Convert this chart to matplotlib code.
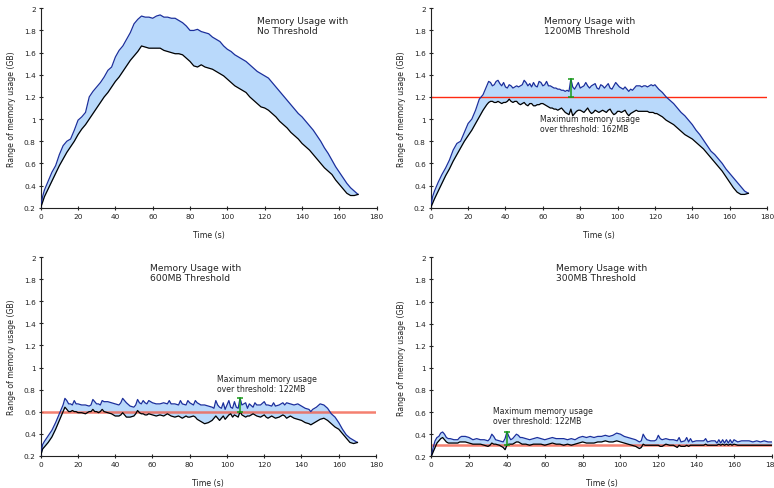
import matplotlib
matplotlib.use("Agg")
import matplotlib.pyplot as plt

# --- no threshold ---
t_none = [0, 1, 2, 4, 6, 8, 10, 12, 14, 16, 18, 20, 22, 24, 26, 28, 30, 32, 34, 36, 38, 40,
          42, 44, 46, 48, 50, 52, 54, 56, 58, 60, 62, 64, 66, 68, 70, 72, 74, 76, 78, 80,
          82, 84, 86, 88, 90, 92, 94, 96, 98, 100, 102, 104, 106, 108, 110, 112, 114, 116,
          118, 120, 122, 124, 126, 128, 130, 132, 134, 136, 138, 140, 142, 144, 146, 148,
          150, 152, 154, 156, 158, 160, 162, 164, 166, 168, 170]
hi_none = [0.2, 0.3, 0.36, 0.44, 0.52, 0.58, 0.68, 0.76, 0.8, 0.82, 0.9, 0.99, 1.02, 1.06,
           1.2, 1.25, 1.29, 1.33, 1.38, 1.44, 1.47, 1.56, 1.62, 1.66, 1.72, 1.78, 1.86, 1.9,
           1.93, 1.92, 1.92, 1.91, 1.93, 1.94, 1.92, 1.92, 1.91, 1.91, 1.89, 1.87, 1.84, 1.8,
           1.8, 1.81, 1.79, 1.78, 1.77, 1.74, 1.72, 1.7, 1.66, 1.63, 1.61, 1.58, 1.56, 1.54,
           1.52, 1.49, 1.46, 1.43, 1.41, 1.39, 1.37, 1.33, 1.29, 1.25, 1.21, 1.17, 1.13, 1.09,
           1.05, 1.02, 0.98, 0.94, 0.9, 0.85, 0.8, 0.74, 0.69, 0.63, 0.57, 0.52, 0.47, 0.42,
           0.38, 0.35, 0.32]
lo_none = [0.2, 0.25, 0.3, 0.37, 0.44, 0.51, 0.58, 0.64, 0.7, 0.75, 0.8, 0.86, 0.91, 0.95,
           1.0, 1.05, 1.1, 1.15, 1.2, 1.24, 1.29, 1.34, 1.38, 1.43, 1.48, 1.53, 1.57, 1.61,
           1.66, 1.65, 1.64, 1.64, 1.64, 1.64, 1.62, 1.61, 1.6, 1.59, 1.59, 1.58, 1.55, 1.52,
           1.48, 1.47, 1.49, 1.47, 1.46, 1.45, 1.43, 1.41, 1.39, 1.36, 1.33, 1.3, 1.28, 1.26,
           1.24, 1.2, 1.17, 1.14, 1.11, 1.1, 1.08, 1.05, 1.02, 0.98, 0.95, 0.92, 0.88, 0.85,
           0.82, 0.78, 0.75, 0.72, 0.68, 0.64, 0.6, 0.56, 0.53, 0.5, 0.45, 0.41, 0.37, 0.33,
           0.31, 0.31, 0.32]

# --- 1200MB threshold ---
t_1200 = ([0, 1, 2, 4, 6, 8, 10, 12, 14, 16, 18, 20, 22, 24, 26, 28, 30]
          + list(range(31, 123))
          + [124, 126, 128, 130, 132, 134, 136, 138, 140, 142, 144, 146, 148, 150, 152, 154,
             156, 158, 160, 162, 164, 166, 168, 170])
hi_1200 = [0.2, 0.3, 0.35, 0.43, 0.5, 0.56, 0.63, 0.72, 0.78, 0.8, 0.88, 0.96, 1.0, 1.08, 1.18,
           1.22, 1.3,
           1.34, 1.33, 1.3, 1.31, 1.34, 1.35, 1.32, 1.3, 1.33, 1.29, 1.28, 1.31, 1.3, 1.28,
           1.29, 1.3, 1.29, 1.3, 1.31, 1.35, 1.33, 1.3, 1.32, 1.29, 1.33, 1.3, 1.29, 1.34,
           1.33, 1.3, 1.31, 1.34, 1.3, 1.3, 1.29, 1.28, 1.28, 1.27, 1.27, 1.26, 1.26, 1.25,
           1.26, 1.25, 1.362, 1.29, 1.27, 1.3, 1.33, 1.28, 1.29, 1.3, 1.33, 1.3, 1.28, 1.3,
           1.31, 1.32, 1.28, 1.27, 1.31, 1.3, 1.28, 1.3, 1.32, 1.28, 1.27, 1.3, 1.33, 1.31,
           1.29, 1.28, 1.27, 1.29, 1.27, 1.25, 1.27, 1.26, 1.28, 1.3, 1.3, 1.3, 1.29, 1.3,
           1.3, 1.29, 1.3, 1.31, 1.3, 1.31, 1.29, 1.27,
           1.24, 1.2, 1.17, 1.14, 1.1, 1.06, 1.03, 0.99, 0.95, 0.9, 0.86, 0.81, 0.76, 0.71,
           0.68, 0.64, 0.6, 0.55, 0.51, 0.47, 0.43, 0.39, 0.35, 0.33]
lo_1200 = [0.2, 0.24, 0.28, 0.35, 0.42, 0.49, 0.55, 0.62, 0.68, 0.74, 0.8, 0.85, 0.9, 0.96,
           1.02, 1.08, 1.13,
           1.15, 1.16, 1.16, 1.15, 1.15, 1.16, 1.15, 1.14, 1.15, 1.15, 1.16, 1.18, 1.16, 1.15,
           1.16, 1.16, 1.14, 1.13, 1.14, 1.15, 1.13, 1.12, 1.14, 1.14, 1.12, 1.12, 1.13, 1.13,
           1.14, 1.14, 1.13, 1.12, 1.11, 1.1, 1.1, 1.09, 1.09, 1.08, 1.09, 1.1, 1.08, 1.06,
           1.05, 1.04, 1.09, 1.03, 1.05, 1.07, 1.08, 1.08, 1.07, 1.06, 1.08, 1.1, 1.07, 1.05,
           1.06, 1.08, 1.07, 1.06, 1.07, 1.08, 1.07, 1.06, 1.08, 1.09, 1.06, 1.04, 1.05, 1.07,
           1.07, 1.06, 1.07, 1.08, 1.05, 1.03, 1.05, 1.06, 1.07, 1.08, 1.07, 1.07, 1.07, 1.07,
           1.07, 1.07, 1.06, 1.06, 1.06, 1.05, 1.05, 1.04,
           1.02, 0.99, 0.97, 0.95, 0.92, 0.89, 0.86, 0.84, 0.82, 0.79, 0.76, 0.73, 0.69, 0.65,
           0.61, 0.57, 0.53, 0.48, 0.43, 0.38, 0.34, 0.32, 0.32, 0.33]

# --- 600MB threshold ---
t_600 = [0, 1, 2, 4, 6, 8, 10, 12, 13, 14, 15, 16, 17, 18, 19, 20, 22, 24, 26, 27, 28, 29, 30,
         31, 32, 33, 34, 36, 38, 40, 42, 43, 44, 45, 46, 48, 50, 51, 52, 53, 54, 55, 56, 57,
         58, 60, 62, 64, 66, 68, 69, 70, 72, 74, 75, 76, 78, 79, 80, 82, 83, 84, 86, 88, 90,
         92, 93, 94, 95, 96, 97, 98, 99, 100, 101, 102, 103, 104, 105, 106, 107, 108, 110,
         111, 112, 114, 115, 116, 118, 120, 121, 122, 124, 125, 126, 128, 130, 131, 132, 134,
         136, 138, 140, 142, 144, 145, 146, 148, 150, 152, 154, 156, 158, 160, 162, 164, 166,
         168, 170]
hi_600 = [0.2, 0.3, 0.33, 0.38, 0.43, 0.5, 0.58, 0.66, 0.72, 0.7, 0.67, 0.67, 0.66, 0.7, 0.67,
          0.67, 0.66, 0.66, 0.65, 0.66, 0.71, 0.69, 0.67, 0.67, 0.66, 0.7, 0.69, 0.69, 0.68,
          0.67, 0.66, 0.68, 0.72, 0.7, 0.68, 0.65, 0.64, 0.66, 0.71, 0.68, 0.67, 0.7, 0.68,
          0.67, 0.7, 0.68, 0.67, 0.67, 0.68, 0.67, 0.7, 0.67, 0.67, 0.66, 0.7, 0.67, 0.66, 0.7,
          0.68, 0.66, 0.7, 0.68, 0.66, 0.66, 0.65, 0.64, 0.63, 0.7, 0.66, 0.64, 0.63, 0.68,
          0.62, 0.66, 0.7, 0.64, 0.63, 0.69, 0.64, 0.63, 0.722, 0.66, 0.68, 0.63, 0.67, 0.64,
          0.68, 0.66, 0.66, 0.69, 0.66, 0.66, 0.65, 0.68, 0.65, 0.66, 0.68, 0.66, 0.68, 0.67,
          0.66, 0.67, 0.65, 0.63, 0.62, 0.6, 0.62, 0.64, 0.67, 0.66, 0.63, 0.58, 0.55, 0.5,
          0.44, 0.39, 0.36, 0.34, 0.32]
lo_600 = [0.2, 0.26, 0.28, 0.32, 0.37, 0.44, 0.52, 0.6, 0.64, 0.62, 0.6, 0.6, 0.61, 0.6, 0.6,
          0.59, 0.59, 0.58, 0.6, 0.6, 0.62, 0.6, 0.6, 0.59, 0.6, 0.62, 0.6, 0.59, 0.58, 0.56,
          0.56, 0.57, 0.59, 0.57, 0.55, 0.55, 0.56, 0.58, 0.61, 0.59, 0.58, 0.58, 0.57, 0.57,
          0.58, 0.57, 0.56, 0.57, 0.56, 0.58, 0.57, 0.56, 0.55, 0.56, 0.55, 0.54, 0.56, 0.55,
          0.55, 0.56, 0.55, 0.53, 0.51, 0.49, 0.5, 0.52, 0.54, 0.56, 0.54, 0.52, 0.54, 0.56,
          0.53, 0.55, 0.57, 0.58, 0.55, 0.57, 0.56, 0.55, 0.6, 0.57, 0.55, 0.56, 0.56, 0.58,
          0.57, 0.56, 0.55, 0.57, 0.55, 0.54, 0.56, 0.55, 0.54, 0.55, 0.57, 0.56, 0.54, 0.56,
          0.54, 0.53, 0.52, 0.5, 0.49, 0.48, 0.49, 0.51, 0.53, 0.54, 0.52, 0.49, 0.46, 0.44,
          0.4, 0.36, 0.32, 0.31, 0.32]

# --- 300MB threshold ---
t_300 = [0, 1, 2, 3, 4, 5, 6, 7, 8, 9, 10, 12, 14, 15, 16, 18, 20, 22, 24, 26, 28, 30, 31, 32,
         33, 34, 36, 38, 39, 40, 41, 42, 43, 44, 45, 46, 47, 48, 50, 52, 54, 56, 58, 60, 62,
         64, 66, 68, 70, 72, 74, 76, 78, 80, 82, 84, 86, 88, 90, 92, 94, 96, 98, 100, 102,
         104, 106, 108, 110, 111, 112, 113, 114, 116, 118, 119, 120, 121, 122, 124, 126, 128,
         130, 131, 132, 134, 135, 136, 137, 138, 140, 142, 144, 145, 146, 148, 150, 151, 152,
         153, 154, 155, 156, 157, 158, 159, 160, 162, 164, 166, 168, 170, 172, 174, 176, 178,
         180]
hi_300 = [0.2, 0.28, 0.34, 0.37, 0.38, 0.41, 0.42, 0.4, 0.37, 0.36, 0.36, 0.35, 0.35, 0.37,
          0.38, 0.38, 0.37, 0.35, 0.36, 0.35, 0.35, 0.34, 0.36, 0.4, 0.38, 0.35, 0.34, 0.33,
          0.36, 0.422, 0.38, 0.35, 0.36, 0.38, 0.4, 0.39, 0.37, 0.37, 0.36, 0.35, 0.36, 0.37,
          0.36, 0.35, 0.36, 0.37, 0.36, 0.36, 0.36, 0.35, 0.36, 0.35, 0.37, 0.38, 0.37, 0.38,
          0.37, 0.38, 0.38, 0.39, 0.38, 0.39, 0.41, 0.4, 0.38, 0.37, 0.36, 0.35, 0.33, 0.34,
          0.4, 0.37, 0.35, 0.34, 0.34, 0.35, 0.39, 0.36, 0.35, 0.36, 0.35, 0.35, 0.34, 0.37,
          0.33, 0.34, 0.37, 0.33, 0.36, 0.33, 0.34, 0.34, 0.34, 0.36, 0.33, 0.34, 0.34, 0.32,
          0.35, 0.32, 0.35, 0.32, 0.35, 0.32, 0.35, 0.32, 0.35, 0.33, 0.34, 0.34, 0.34, 0.33,
          0.34, 0.33, 0.34, 0.33, 0.33]
lo_300 = [0.2, 0.24, 0.28, 0.32, 0.34, 0.36, 0.37, 0.35, 0.33, 0.32, 0.32, 0.32, 0.32, 0.33,
          0.33, 0.33, 0.32, 0.31, 0.31, 0.31, 0.3, 0.29, 0.3, 0.32, 0.31, 0.31, 0.3, 0.28,
          0.26, 0.3, 0.31, 0.31, 0.31, 0.32, 0.33, 0.33, 0.32, 0.31, 0.31, 0.3, 0.31, 0.31,
          0.31, 0.3, 0.31, 0.32, 0.31, 0.31, 0.3, 0.31, 0.3, 0.31, 0.32, 0.33, 0.32, 0.32,
          0.32, 0.33, 0.33, 0.34, 0.33, 0.33, 0.34, 0.33, 0.32, 0.31, 0.3, 0.29, 0.27, 0.28,
          0.31, 0.3, 0.3, 0.3, 0.3, 0.3, 0.3, 0.29, 0.29, 0.31, 0.3, 0.3, 0.28, 0.3, 0.29,
          0.29, 0.3, 0.29, 0.3, 0.3, 0.3, 0.3, 0.3, 0.31, 0.3, 0.3, 0.3, 0.3, 0.31, 0.3, 0.31,
          0.3, 0.31, 0.3, 0.31, 0.3, 0.31, 0.3, 0.3, 0.3, 0.3, 0.3, 0.3, 0.3, 0.3, 0.3, 0.3]

# panel setup: axes box in figure fractions, title, threshold (GB), peak marker
panels = [
    dict(rect=[0.0526, 0.5732, 0.4341, 0.4078], t=t_none, hi=hi_none, lo=lo_none,
         title="Memory Usage with\nNo Threshold", title_xy=(116, 1.93),
         limit=None),
    dict(rect=[0.5565, 0.5732, 0.4345, 0.4078], t=t_1200, hi=hi_1200, lo=lo_1200,
         title="Memory Usage with\n1200MB Threshold", title_xy=(60.6, 1.93),
         limit=1.2, peak_t=75, over=162, note_xy=(58.5, 1.05), thin=True),
    dict(rect=[0.0526, 0.0661, 0.4332, 0.4057], t=t_600, hi=hi_600, lo=lo_600,
         title="Memory Usage with\n600MB Threshold", title_xy=(58.7, 1.95),
         limit=0.6, peak_t=107, over=122, note_xy=(94.6, 0.94), thin=False),
    dict(rect=[0.5572, 0.0648, 0.4400, 0.4070], t=t_300, hi=hi_300, lo=lo_300,
         title="Memory Usage with\n300MB Threshold", title_xy=(66, 1.95),
         limit=0.3, peak_t=40, over=122, note_xy=(32.4, 0.655), thin=False),
]

fig = plt.figure(figsize=(7.74, 4.89), dpi=100)

for p in panels:
    assert len(p["t"]) == len(p["hi"]) == len(p["lo"])
    ax = fig.add_axes(p["rect"])
    ax.fill_between(p["t"], p["lo"], p["hi"], color="#b9d9fb", lw=0, zorder=1)
    if p["limit"] is not None:
        if p["thin"]:
            ax.axhline(p["limit"], color="#ff2a12", lw=1.0, zorder=2)
        else:
            ax.axhline(p["limit"], color="#f2604c", lw=1.8, alpha=0.8, zorder=2)
    ax.plot(p["t"], p["hi"], color="#1b2f9c", lw=0.9, zorder=3)
    ax.plot(p["t"], p["lo"], color="black", lw=0.9, zorder=3)

    if p["limit"] is not None:
        top = p["limit"] + p["over"] / 1000.0
        ax.plot([p["peak_t"], p["peak_t"]], [p["limit"], top], color="#1a9a1a",
                lw=1.1, zorder=4)
        ax.plot([p["peak_t"]], [top], marker="_", ms=4, mew=1.1, color="#1a9a1a", zorder=4)
        ax.plot([p["peak_t"]], [p["limit"]], marker="_", ms=4, mew=1.1, color="#1a9a1a",
                zorder=4)
        ax.text(p["note_xy"][0], p["note_xy"][1],
                "Maximum memory usage\nover threshold: %dMB" % p["over"],
                fontsize=5.6, va="top", ha="left", color="#222222", linespacing=1.15)

    ax.text(p["title_xy"][0], p["title_xy"][1], p["title"], fontsize=6.6, va="top",
            ha="left", color="#222222", linespacing=1.2)

    ax.set_xlim(0, 180)
    ax.set_ylim(0.2, 2)
    ax.set_xticks(range(0, 181, 20))
    ax.set_yticks([0.2, 0.4, 0.6, 0.8, 1, 1.2, 1.4, 1.6, 1.8, 2])
    ax.set_yticklabels(["0.2", "0.4", "0.6", "0.8", "1", "1.2", "1.4", "1.6", "1.8", "2"])
    ax.tick_params(labelsize=5.3, length=3, width=0.8, direction="inout", pad=2,
                   colors="#222222")
    for side in ("top", "right"):
        ax.spines[side].set_visible(False)
    for side in ("left", "bottom"):
        ax.spines[side].set_linewidth(0.8)
        ax.spines[side].set_color("#222222")
    ax.set_xlabel("Time (s)", fontsize=5.6, labelpad=8, color="#222222")
    ax.set_ylabel("Range of memory usage (GB)", fontsize=5.6, labelpad=6, color="#222222")

fig.savefig("out.png", dpi=100)
